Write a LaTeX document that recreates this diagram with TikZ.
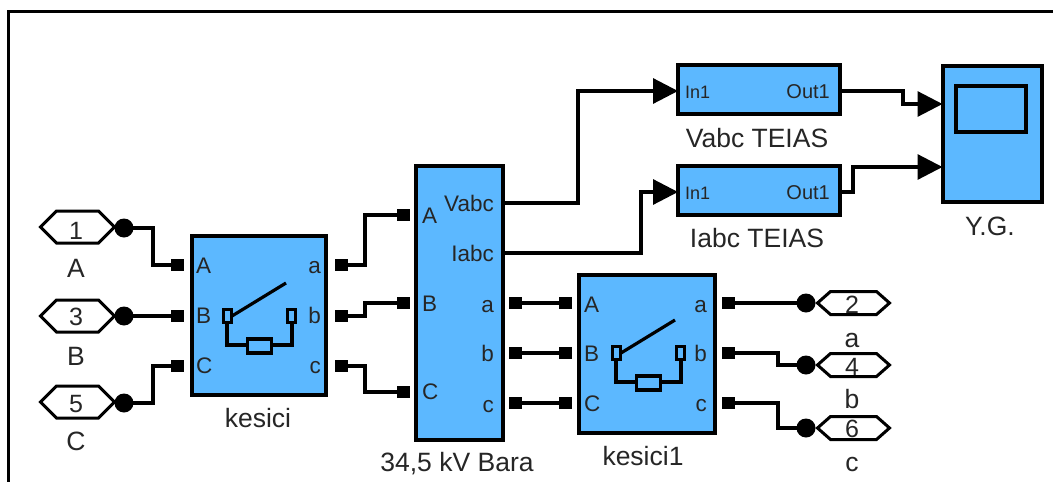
\documentclass[tikz,border=0pt]{standalone}
\usepackage{fontspec}
\setmainfont{Liberation Sans}
\usetikzlibrary{arrows.meta,calc}
\definecolor{blockblue}{HTML}{5CB8FF}
\definecolor{inkgrey}{HTML}{262626}
\tikzset{
  x=1pt,y=-1pt,
  block/.style={draw=black,fill=blockblue,line width=4pt,rectangle,inner sep=0pt,outer sep=0pt},
  wire/.style={draw=black,line width=3.2pt,line join=miter},
  arrowwire/.style={wire,-{Triangle[length=25pt,width=25pt,sep=0pt]}},
  portsq/.style={fill=black,rectangle,minimum size=12.5pt,inner sep=0pt,outer sep=0pt},
  juncdot/.style={fill=black,circle,minimum size=19pt,inner sep=0pt,outer sep=0pt},
  labeltxt/.style={text=inkgrey,inner sep=0pt,font=\fontsize{26.5}{26.5}\selectfont,anchor=base},
  numtxt/.style={text=inkgrey,inner sep=0pt,font=\fontsize{25}{25}\selectfont,anchor=base},
  portW/.style={text=inkgrey,inner sep=0pt,font=\fontsize{22.5}{22.5}\selectfont,anchor=base west},
  portE/.style={text=inkgrey,inner sep=0pt,font=\fontsize{22.5}{22.5}\selectfont,anchor=base east},
  hexline/.style={draw=black,line width=3pt,fill=white,line join=miter},
  symline/.style={draw=black,line width=3.2pt},
}
% #1 centre x, #2 centre y, #3 half height, #4 half width, #5 shoulder offset
\newcommand{\hexshape}[5]{\draw[hexline] ($(#1,#2)+(-#4,0)$) -- ($(#1,#2)+(-#5,-#3)$) -- ($(#1,#2)+(#5,-#3)$) -- ($(#1,#2)+(#4,0)$) -- ($(#1,#2)+(#5,#3)$) -- ($(#1,#2)+(-#5,#3)$) -- cycle;}
% breaker symbol, offset #1,#2
\newcommand{\breakersym}[2]{%
  \begin{scope}[shift={(#1,#2)}]
    \draw[symline] (227,323) -- (227,345) -- (292,345) -- (292,323);
    \draw[symline,fill=blockblue] (223.5,309.5) rectangle (231.5,322.5);
    \draw[symline,fill=blockblue] (287.5,309.5) rectangle (295.5,322.5);
    \draw[symline,fill=blockblue] (247.5,339) rectangle (271.5,353);
    \draw[draw=black,line width=3.2pt] (232,316) -- (286,283);
  \end{scope}}
\begin{document}
\begin{tikzpicture}
\useasboundingbox (0,0) rectangle (1053,482);
\fill[white] (0,0) rectangle (1053,482);
\draw[draw=black,line width=3pt] (8,482) -- (8,11) -- (1053,11);

% blocks
\node[block,minimum width=134pt,minimum height=159pt] (kesici) at (258.5,315.5) {};
\node[block,minimum width=87pt,minimum height=274pt] (bara) at (459,303) {};
\node[block,minimum width=136pt,minimum height=158pt] (kesicib) at (646.5,353.5) {};
\node[block,minimum width=162pt,minimum height=49pt] (vteias) at (759,89.5) {};
\node[block,minimum width=162pt,minimum height=49pt] (iteias) at (759,190) {};
\node[block,minimum width=99pt,minimum height=136pt] (yg) at (992,133.5) {};
\node[block,line width=3.5pt,minimum width=70pt,minimum height=46pt] (ygscreen) at (991,109) {};
\breakersym{0}{0}
\breakersym{389}{37}

% hexagons
\hexshape{77.5}{227}{16}{37}{21}
\hexshape{77.5}{316}{16}{37}{21}
\hexshape{77.5}{402}{16}{37}{21}
\hexshape{853.5}{303}{11.5}{36}{23}
\hexshape{853.5}{365}{11.5}{36}{23}
\hexshape{853.5}{428}{11.5}{36}{23}
\node[numtxt] (nA) at (76,239) {1};
\node[numtxt] (nB) at (76,325) {3};
\node[numtxt] (nC) at (76,412) {5};
\node[numtxt] (na) at (852,313) {2};
\node[numtxt] (nb) at (852,375) {4};
\node[numtxt] (nc) at (852,437) {6};

% junction dots
\node[juncdot] (dA) at (124,228) {};
\node[juncdot] (dB) at (124,316) {};
\node[juncdot] (dC) at (124,403) {};
\node[juncdot] (da) at (806,303) {};
\node[juncdot] (db) at (806,365) {};
\node[juncdot] (dc) at (806,428) {};

% port squares
\node[portsq] (kiA) at (177.5,265) {};
\node[portsq] (kiB) at (177.5,316) {};
\node[portsq] (kiC) at (177.5,366) {};
\node[portsq] (koa) at (341.5,265) {};
\node[portsq] (kob) at (341.5,316) {};
\node[portsq] (koc) at (341.5,366) {};
\node[portsq] (biA) at (403.5,215) {};
\node[portsq] (biB) at (403.5,303) {};
\node[portsq] (biC) at (403.5,392) {};
\node[portsq] (boa) at (515.5,303) {};
\node[portsq] (bob) at (515.5,353) {};
\node[portsq] (boc) at (515.5,403) {};
\node[portsq] (liA) at (565.5,303) {};
\node[portsq] (liB) at (565.5,353) {};
\node[portsq] (liC) at (565.5,403) {};
\node[portsq] (loa) at (728.5,303) {};
\node[portsq] (lob) at (728.5,353) {};
\node[portsq] (loc) at (728.5,403) {};

% signal ports on block edges
\coordinate (bV) at (bara.east |- 0,203);
\coordinate (bI) at (bara.east |- 0,253);
\coordinate (vin) at (vteias.west |- 0,91);
\coordinate (iin) at (iteias.west |- 0,192);
\coordinate (vout) at (vteias.east |- 0,91);
\coordinate (iout) at (iteias.east |- 0,192);
\coordinate (ygA) at (yg.west |- 0,104);
\coordinate (ygB) at (yg.west |- 0,167);

% wires
\draw[wire] (dA.center) -| (153,265) -- (kiA.center);
\draw[wire] (dB.center) -- (kiB.center);
\draw[wire] (dC.center) -| (153,366) -- (kiC.center);
\draw[wire] (koa.center) -| (365,215) -- (biA.center);
\draw[wire] (kob.center) -| (365,303) -- (biB.center);
\draw[wire] (koc.center) -| (365,392) -- (biC.center);
\draw[wire] (boa.center) -- (liA.center);
\draw[wire] (bob.center) -- (liB.center);
\draw[wire] (boc.center) -- (liC.center);
\draw[wire] (loa.center) -- (da.center);
\draw[wire] (lob.center) -| (778,365) -- (db.center);
\draw[wire] (loc.center) -| (778,428) -- (dc.center);
\draw[arrowwire] (bV) -| (578,91) -- (vin);
\draw[arrowwire] (bI) -| (641,192) -- (iin);
\draw[arrowwire] (vout) -| (903,104) -- (ygA);
\draw[arrowwire] (iout) -| (853,167) -- (ygB);

% outside labels
\node[labeltxt] (lA) at (76,277) {A};
\node[labeltxt] (lB) at (76,365) {B};
\node[labeltxt] (lC) at (76,450) {C};
\node[labeltxt] (lkes) at (258,427) {kesici};
\node[labeltxt] (lbar) at (457,471) {34,5 kV Bara};
\node[labeltxt] (lkesb) at (643,465) {kesici1};
\node[labeltxt] (la) at (852,347) {a};
\node[labeltxt] (lb) at (852,408) {b};
\node[labeltxt] (lc) at (852,471) {c};
\node[labeltxt] (lv) at (757,147) {Vabc TEIAS};
\node[labeltxt] (li) at (757,247) {Iabc TEIAS};
\node[labeltxt] (ly) at (990,235) {Y.G.};

% inside port labels
\node[portW] (t1) at (196,273) {A};
\node[portW] (t2) at (196,323) {B};
\node[portW] (t3) at (196,373) {C};
\node[portE] (t4) at (321,273) {a};
\node[portE] (t5) at (321,323) {b};
\node[portE] (t6) at (321,373) {c};
\node[portW] (t7) at (422,223) {A};
\node[portW] (t8) at (422,311) {B};
\node[portW] (t9) at (422,399) {C};
\node[portE] (t10) at (494,211) {Vabc};
\node[portE] (t11) at (494,261) {Iabc};
\node[portE] (t12) at (494,312) {a};
\node[portE] (t13) at (494,361) {b};
\node[portE] (t14) at (494,412) {c};
\node[portW] (t15) at (584,312) {A};
\node[portW] (t16) at (584,361) {B};
\node[portW] (t17) at (584,411) {C};
\node[portE] (t18) at (707,312) {a};
\node[portE] (t19) at (707,361) {b};
\node[portE] (t20) at (707,411) {c};
\node[portW,font=\fontsize{18}{18}\selectfont] (t21) at (685,98) {In1};
\node[portE,font=\fontsize{20}{20}\selectfont] (t22) at (830,98) {Out1};
\node[portW,font=\fontsize{18}{18}\selectfont] (t23) at (685,199) {In1};
\node[portE,font=\fontsize{20}{20}\selectfont] (t24) at (830,199) {Out1};
\end{tikzpicture}
\end{document}
